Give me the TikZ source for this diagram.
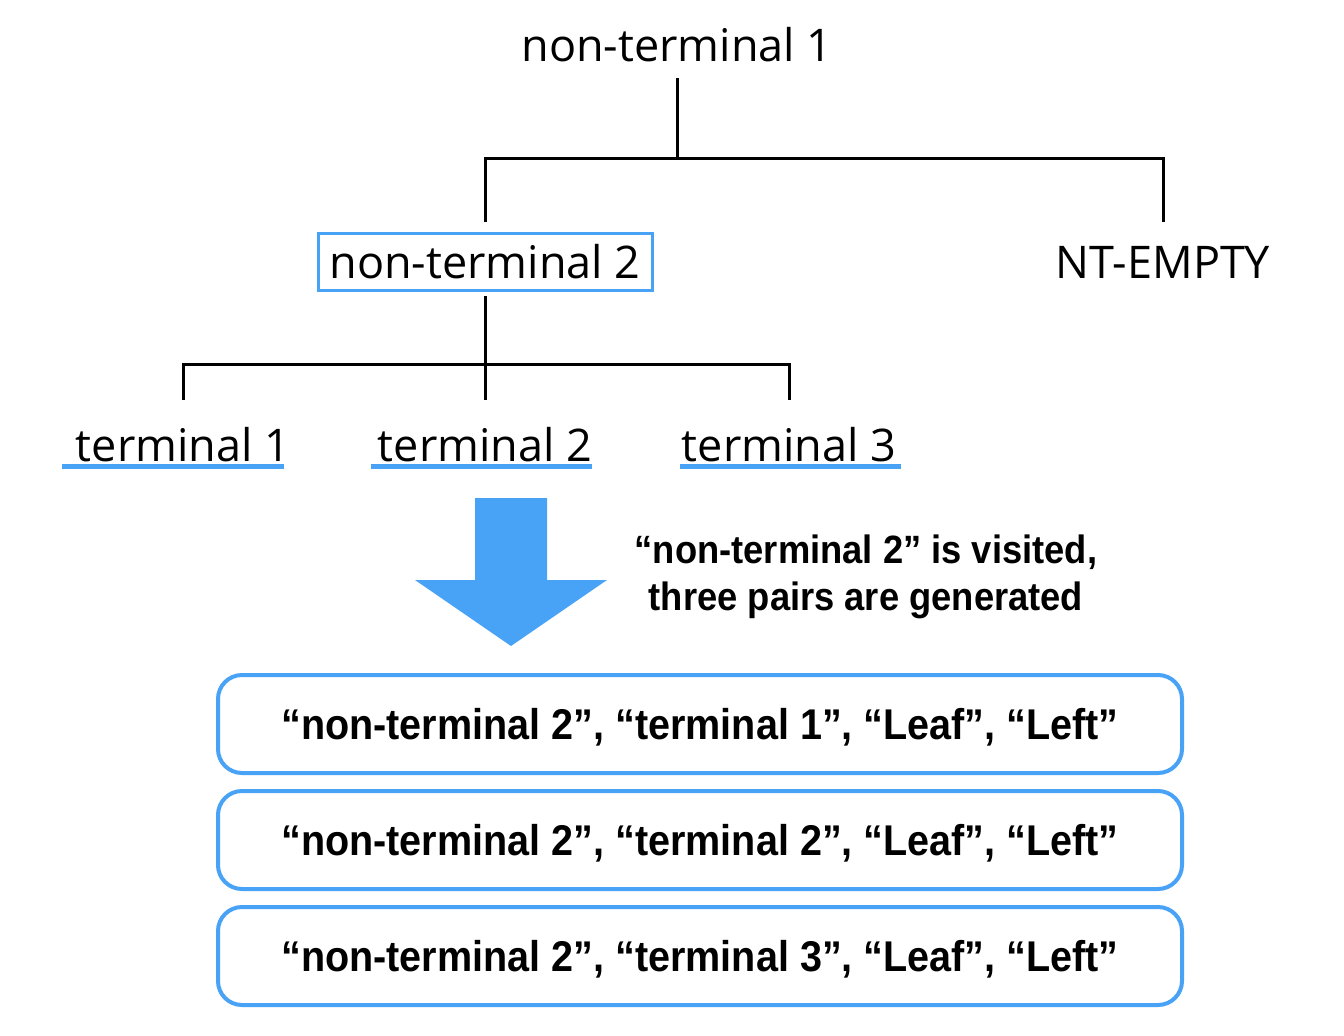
\documentclass[tikz,border=0pt]{standalone}
\usepackage{fontspec}
\setmainfont{Open Sans}
\newfontfamily\pairfont[FakeStretch=0.92]{Liberation Sans}
\usepackage{tikz}
\definecolor{pairBlue}{RGB}{72,162,245}

\begin{document}
\begin{tikzpicture}[x=1pt, y=-1pt, every node/.style={inner sep=0pt,font=\fontsize{45}{54}\selectfont},
    treelabel/.style={minimum height=#1},
    pairbox/.style={draw=pairBlue,line width=4pt,rounded corners=24pt,minimum width=964pt,minimum height=98pt,text depth=0pt,
        font=\pairfont\bfseries\fontsize{43}{50}\selectfont},
    uline/.style={pairBlue,line width=5pt}]
            \useasboundingbox (0,0) rectangle (1344,1036);

            \node[treelabel=66pt] (nt1) at (677,45) {non-terminal 1};
            \node[draw=pairBlue,line width=3pt,minimum width=334pt,minimum height=57pt,outer sep=0pt] (nt2) at (485,261.5) {non-terminal 2};
            \node[treelabel=80pt] (nte) at (1163,262) {NT-EMPTY};
            \coordinate (b1) at (677,158);
            \draw[line width=3pt] (nt1) -- (b1);
            \draw[line width=3pt,shorten <=11pt] (nt2) |- (b1) -| (nte);

            \node[treelabel=90pt] (t1) at (183,445) {terminal 1};
            \node[treelabel=90pt] (t2) at (485,445) {terminal 2};
            \node[treelabel=90pt] (t3) at (789,445) {terminal 3};
            \coordinate (b2) at (485,364);
            \draw[line width=3pt,shorten <=6pt] (nt2) -- (b2) -- (t2);
            \draw[line width=3pt] (t1) |- (b2) -| (t3);
            \draw[uline] (62,466) -- (284,466);
            \draw[uline] (371,466) -- (592,466);
            \draw[uline] (680,466) -- (901,466);

            \fill[pairBlue] (475,498) -- (547,498) -- (547,580) -- (607,580) -- (511,646) -- (415,580) -- (475,580) -- cycle;
            \node[align=center,font=\pairfont\bfseries\fontsize{39.5}{47}\selectfont] (note) at (866,577) {“non-terminal 2” is visited,\\three pairs are generated};

            \node[pairbox] (p1) at (700,724) {“non-terminal 2”, “terminal 1”, “Leaf”, “Left”};
            \node[pairbox] (p2) at (700,840) {“non-terminal 2”, “terminal 2”, “Leaf”, “Left”};
            \node[pairbox] (p3) at (700,956) {“non-terminal 2”, “terminal 3”, “Leaf”, “Left”};
        \end{tikzpicture}
\end{document}
